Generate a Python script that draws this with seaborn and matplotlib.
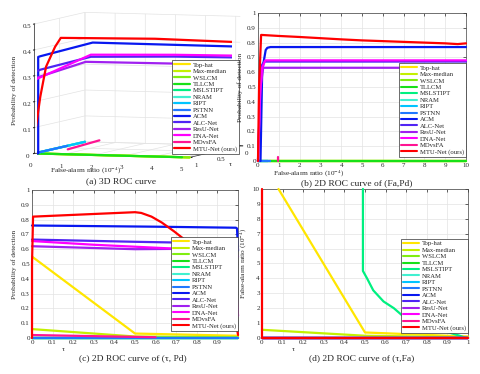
import matplotlib
matplotlib.use('Agg')
import matplotlib.pyplot as plt
import seaborn as sns

sns.set_style('white')
plt.rcParams['font.family'] = ['Liberation Serif', 'DejaVu Serif']
plt.rcParams['mathtext.fontset'] = 'stix'
plt.rcParams['grid.color'] = '#e3e3e3'
plt.rcParams['grid.linewidth'] = 0.5

methods = ['Top-hat', 'Max-median', 'WSLCM', 'TLLCM', 'MSLSTIPT', 'NRAM', 'RIPT',
           'PSTNN', 'ACM', 'ALC-Net', 'ResU-Net', 'DNA-Net', 'MDvsFA', 'MTU-Net (ours)']
colors = ['#ffe600', '#c3f000', '#80ee10', '#18e018', '#00f080', '#40f0d0', '#00c4ff',
          '#2078ff', '#0818f0', '#5024f4', '#a020f0', '#ff00ff', '#ff1493', '#ff0000']

# (a) 3D ROC: false-alarm ratio, tau, probability of detection
a_fa = [[0, 5.15], [0, 5.15], [0, 5.15], [0, 4.9], [0, 0], [0, 0], [0, 0], [0, 0],
        [0, 0.13, 0.13, 0.2, 1.6, 5.15],
        [0, 0.03, 0.2, 1.54, 3.63, 5.15],
        [0, 0.06, 1.37, 3.63, 5.15],
        [0, 0.03, 1.54, 3.63, 5.15],
        [1.11, 2.16],
        [0, 0.03, 0.2, 0.39, 0.69, 0.88, 3.5, 5.15]]
a_tau = [[1, 1], [1, 1], [1, 1], [1, 1], [1, 0], [1, 0], [1, 0], [1, 0.35],
         [1, 1, 1, 1, 0.8, 0],
         [1, 1, 1, 0.8, 0.4, 0],
         [1, 1, 0.8, 0.4, 0],
         [1, 1, 0.8, 0.4, 0],
         [1, 1],
         [1, 1, 1, 1, 1, 1, 0.7, 0]]
a_pd = [[0, 0], [0, 0], [0, 0], [0, 0], [0, 0], [0, 0], [0, 0], [0, 0],
        [0, 0, 0.373, 0.376, 0.424, 0.383],
        [0, 0.315, 0.324, 0.369, 0.358, 0.341],
        [0, 0.292, 0.349, 0.331, 0.314],
        [0, 0.285, 0.377, 0.365, 0.348],
        [0.019, 0.057],
        [0, 0.08, 0.22, 0.336, 0.414, 0.449, 0.44, 0.40]]

# (b) Pd versus Fa
b_fa = [[0, 10], [0, 10], [0.6, 10], [0.6, 10], [0, 0.5], [0, 0.5], [0, 0.6], [0, 0.6],
        [0.12, 0.2, 0.26, 0.37, 0.45, 0.6, 10],
        [0, 0.15, 0.3, 10],
        [0, 0.12, 0.25, 10],
        [0, 0.1, 0.2, 0.35, 10],
        [0.95, 0.95],
        [0, 0.05, 0.15, 1, 2, 3, 4, 5, 6, 7, 8, 9, 9.6, 10]]
b_pd = [[0, 0], [0, 0], [0, 0], [0, 0], [0, 0], [0, 0], [0, 0], [0, 0],
        [0, 0.6, 0.66, 0.75, 0.765, 0.77, 0.77],
        [0, 0.64, 0.672, 0.672],
        [0, 0.5, 0.63, 0.63],
        [0, 0.45, 0.63, 0.68, 0.68],
        [0, 0.025],
        [0, 0.5, 0.852, 0.845, 0.838, 0.83, 0.822, 0.815, 0.81, 0.805, 0.8, 0.795, 0.79, 0.795]]

# (c) Pd versus tau
c_tau = [[0, 0.5, 1], [0, 0.5, 1], [0, 1], [0, 1], [0, 1], [0, 1], [0, 1], [0, 1],
         [0, 0.6, 0.99, 0.995, 1.0],
         [0, 0.5, 0.7, 0.98, 1.0],
         [0, 0.5, 0.98, 1.0],
         [0, 0.3, 0.6, 0.98, 1.0],
         [0, 0.6],
         [0, 0, 0.005, 0.5, 0.53, 0.58, 0.63, 0.69, 0.8, 0.9, 0.97, 1.0]]
c_pd = [[0.55, 0.03, 0.015], [0.06, 0.01, 0.005], [0, 0], [0, 0], [0, 0], [0, 0], [0, 0], [0, 0],
        [0.76, 0.752, 0.745, 0.74, 0.59],
        [0.665, 0.65, 0.645, 0.625, 0.6],
        [0.62, 0.6, 0.605, 0.55],
        [0.655, 0.63, 0.61, 0.585, 0.15],
        [0.02, 0.005],
        [0, 0.5, 0.82, 0.85, 0.845, 0.82, 0.78, 0.72, 0.6, 0.48, 0.28, 0.02]]

# (d) Fa versus tau
d_tau = [[0.08, 0.5, 1], [0, 0.5, 1], [0, 1], [0, 1],
         [0.49, 0.49, 0.51, 0.54, 0.59, 0.64, 0.69, 0.8, 0.9, 0.96, 0.99],
         [0, 1], [0, 1], [0, 1], [0, 1], [0, 1], [0, 1], [0, 1], [0, 1],
         [0, 0, 1]]
d_fa = [[10, 0.37, 0.1], [0.55, 0.15, 0.05], [0, 0], [0, 0],
        [10, 4.5, 4.0, 3.2, 2.45, 2.0, 1.4, 0.8, 0.4, 0.15, 0],
        [0, 0], [0, 0], [0, 0], [0, 0], [0, 0], [0, 0], [0, 0], [0, 0],
        [10, 0, 0]]

fig = plt.figure(figsize=(4.8, 3.74), dpi=100)
TICK = 5
LAB = 5.2
CAP = 6.8
faunit = 'False-alarm ratio (10$^{-4}$)'


def style2d(ax, xlim, ylim, xticks, yticks):
    ax.set_xlim(*xlim)
    ax.set_ylim(*ylim)
    ax.set_xticks(xticks)
    ax.set_yticks(yticks)
    ax.grid(True)
    ax.tick_params(direction='in', length=2, width=0.5, labelsize=TICK, pad=1.5,
                   top=True, right=True)
    for s in ax.spines.values():
        s.set_linewidth(0.5)
        s.set_color('0.25')
    ax.set_xlabel('')
    ax.set_ylabel('')


def draw2d(ax, xs, ys):
    for name, c, x, y in zip(methods, colors, xs, ys):
        sns.lineplot(x=x, y=y, ax=ax, color=c, lw=1.6, sort=False, estimator=None,
                     label=name, clip_on=False, zorder=3)


def legend2d(ax, yoff):
    leg = ax.legend(loc='lower right', bbox_to_anchor=(1.0, yoff), borderaxespad=0,
                    fontsize=4.8, labelspacing=0.12, handlelength=2.4, handletextpad=0.4,
                    borderpad=0.3, fancybox=False, framealpha=1, edgecolor='0.2')
    leg.get_frame().set_linewidth(0.5)
    for h in leg.get_lines():
        h.set_linewidth(1.5)


# ---- (a) 3D ROC curve, depth axis runs from tau = 1 (front) to tau = 0 (back)
ax3 = fig.add_axes([0.0005, 0.506, 0.56, 0.52], projection='3d')
ax3.set_proj_type('ortho')
ax3.view_init(elev=4.4, azim=-71.5)
ax3.set_box_aspect((164, 160, 130), zoom=1.313)
for name, c, x, t, p in zip(methods, colors, a_fa, a_tau, a_pd):
    ax3.plot(x, [1 - v for v in t], p, color=c, lw=1.6, label=name)
ax3.set_xlim(0, 5.15)
ax3.set_ylim(0, 1)
ax3.set_zlim(0, 0.5)
ax3.set_xticks([0, 1, 2, 3, 4, 5])
ax3.set_yticks([0, 0.5, 1])
ax3.set_yticklabels(['1', '0.5', '0'])
ax3.set_zticks([0, 0.1, 0.2, 0.3, 0.4, 0.5])
ax3.set_zticklabels(['0', '0.1', '0.2', '0.3', '0.4', '0.5'])
ax3.zaxis.set_ticks_position('lower')
ax3.tick_params(labelsize=TICK, pad=-3)
ax3.zaxis.set_tick_params(pad=-5.5)
ax3.yaxis.set_tick_params(pad=-5)
for axis in (ax3.xaxis, ax3.yaxis, ax3.zaxis):
    axis.set_pane_color((1, 1, 1, 0))
    axis.pane.set_edgecolor('0.45')
    axis.line.set_linewidth(0.5)
leg = ax3.legend(loc='lower left', bbox_to_anchor=(172 / 480, 1 - 154 / 374),
                 bbox_transform=fig.transFigure, borderaxespad=0,
                 fontsize=4.8, labelspacing=0.12, handlelength=2.4, handletextpad=0.4,
                 borderpad=0.3, fancybox=False, framealpha=1, edgecolor='0.2')
leg.get_frame().set_linewidth(0.5)
fig.text(14 / 480, 1 - 90 / 374, 'Probability of detection', rotation=90,
         ha='center', va='center', fontsize=LAB)
fig.text(50 / 480, 1 - 171 / 374, faunit, ha='left', va='center', fontsize=LAB)
fig.text(229 / 480, 1 - 164 / 374, 'τ', ha='left', va='center', fontsize=LAB)

# ---- (b) Pd vs Fa
axb = fig.add_axes([0.5375, 0.5695, 0.4333, 0.3957])
draw2d(axb, b_fa, b_pd)
style2d(axb, (0, 10), (0, 1), range(0, 11), [i / 10 for i in range(11)])
axb.set_yticklabels(['0'] + [f'{i / 10:g}' for i in range(1, 10)] + ['1'])
legend2d(axb, 0.027)
axb.set_ylabel('Probability of detection', fontsize=LAB, labelpad=3)
axb.text(0.07, -0.09, faunit, transform=axb.transAxes, fontsize=LAB, va='center')

# ---- (c) Pd vs tau
axc = fig.add_axes([0.0667, 0.0963, 0.4292, 0.3957])
draw2d(axc, c_tau, c_pd)
style2d(axc, (0, 1), (0, 1), [i / 10 for i in range(10)], [i / 10 for i in range(11)])
axc.set_xticklabels(['0'] + [f'{i / 10:g}' for i in range(1, 10)])
axc.set_yticklabels(['0'] + [f'{i / 10:g}' for i in range(1, 10)] + ['1'])
legend2d(axc, 0.047)
axc.set_ylabel('Probability of detection', fontsize=LAB, labelpad=3)
axc.text(0.145, -0.075, 'τ', transform=axc.transAxes, fontsize=LAB, va='center')

# ---- (d) Fa vs tau
axd = fig.add_axes([0.5458, 0.0963, 0.4292, 0.3984])
draw2d(axd, d_tau, d_fa)
style2d(axd, (0, 1), (0, 10), [i / 10 for i in range(11)], range(0, 11))
axd.set_xticklabels(['0'] + [f'{i / 10:g}' for i in range(1, 10)] + ['1'])
legend2d(axd, 0.034)
axd.set_ylabel(faunit, fontsize=LAB, labelpad=3)
axd.text(0.145, -0.075, 'τ', transform=axd.transAxes, fontsize=LAB, va='center')

# captions
fig.text(121 / 480, 1 - 181 / 374, '(a) 3D ROC curve', ha='center', va='center', fontsize=CAP)
fig.text(357 / 480, 1 - 183 / 374, '(b) 2D ROC curve of (Fa,Pd)', ha='center', va='center', fontsize=CAP)
fig.text(133 / 480, 1 - 358 / 374, '(c) 2D ROC curve of (τ, Pd)', ha='center', va='center', fontsize=CAP)
fig.text(362 / 480, 1 - 358 / 374, '(d) 2D ROC curve of (τ,Fa)', ha='center', va='center', fontsize=CAP)

fig.savefig('out.png', dpi=100)
